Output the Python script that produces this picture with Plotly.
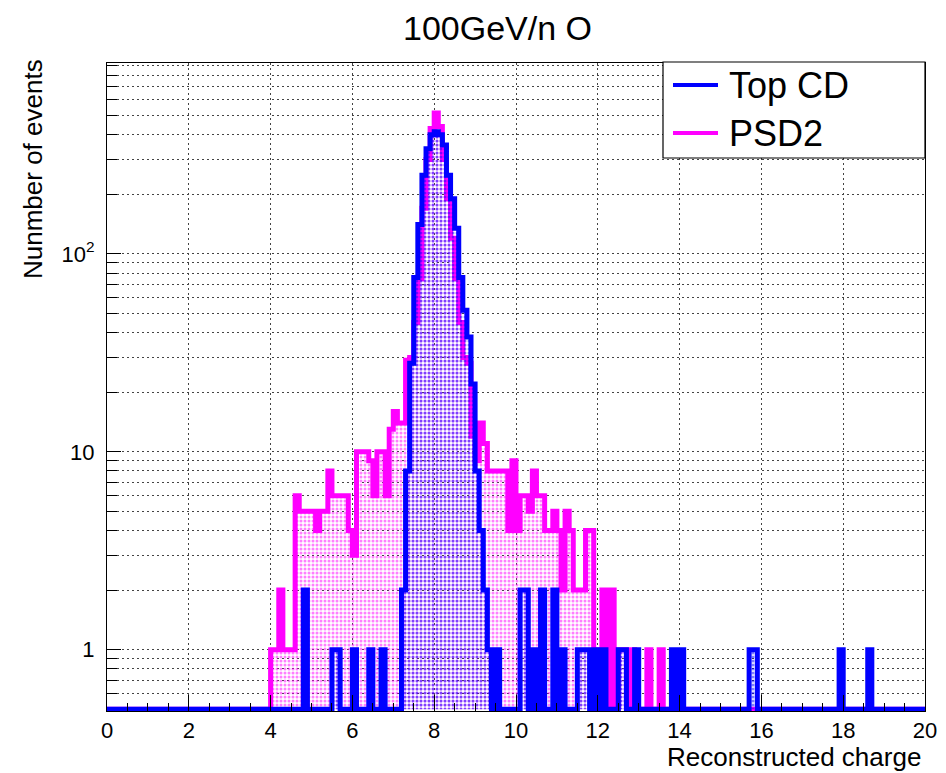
import numpy as np
import plotly.graph_objects as go

# ---------------- data (200 bins of width 0.1 from 0 to 20) ----------------
x_min = 0.0
bin_width = 0.1

top_cd_counts = [
    0, 0, 0, 0, 0, 0, 0, 0, 0, 0,        # 0.0 - 0.9
    0, 0, 0, 0, 0, 0, 0, 0, 0, 0,        # 1.0
    0, 0, 0, 0, 0, 0, 0, 0, 0, 0,        # 2.0
    0, 0, 0, 0, 0, 0, 0, 0, 0, 0,        # 3.0
    0, 0, 0, 0, 0, 0, 0, 0, 2, 0,        # 4.0
    0, 0, 0, 0, 0, 1, 1, 0, 0, 0,        # 5.0
    1, 0, 0, 0, 1, 0, 0, 1, 0, 0,        # 6.0
    0, 0, 2, 8, 28, 76, 141, 250, 340, 400,   # 7.0
    415, 400, 355, 250, 190, 135, 76, 52, 38, 22,  # 8.0
    8, 4, 2, 1, 0, 1, 0, 0, 0, 0,        # 9.0
    0, 2, 2, 0, 1, 0, 2, 0, 0, 2,        # 10.0
    0, 1, 0, 0, 0, 1, 1, 1, 0, 1,        # 11.0
    0, 1, 0, 0, 0, 1, 1, 0, 0, 1,        # 12.0
    0, 0, 0, 0, 0, 0, 0, 0, 1, 0,        # 13.0
    1, 0, 0, 0, 0, 0, 0, 0, 0, 0,        # 14.0
    0, 0, 0, 0, 0, 0, 0, 1, 1, 0,        # 15.0
    0, 0, 0, 0, 0, 0, 0, 0, 0, 0,        # 16.0
    0, 0, 0, 0, 0, 0, 0, 0, 0, 1,        # 17.0
    0, 0, 0, 0, 0, 0, 1, 0, 0, 0,        # 18.0
    0, 0, 0, 0, 0, 0, 0, 0, 0, 0,        # 19.0
]

psd2_counts = [
    0, 0, 0, 0, 0, 0, 0, 0, 0, 0,        # 0.0
    0, 0, 0, 0, 0, 0, 0, 0, 0, 0,        # 1.0
    0, 0, 0, 0, 0, 0, 0, 0, 0, 0,        # 2.0
    0, 0, 0, 0, 0, 0, 0, 0, 0, 0,        # 3.0
    1, 1, 2, 1, 1, 1, 6, 5, 5, 5,        # 4.0
    5, 4, 5, 5, 8, 6, 6, 6, 6, 4,        # 5.0
    3, 10, 10, 10, 9, 6, 10, 10, 6, 13,  # 6.0
    16, 14, 14, 29, 30, 45, 75, 170, 300, 430,   # 7.0
    515, 440, 300, 190, 120, 75, 45, 30, 28, 12,  # 8.0
    9, 14, 11, 8, 8, 8, 8, 8, 4, 9,      # 9.0
    4, 6, 6, 5, 8, 6, 6, 4, 4, 5,        # 10.0
    4, 2, 5, 4, 2, 2, 2, 4, 4, 1,        # 11.0
    1, 2, 0, 2, 0, 1, 1, 0, 1, 0,        # 12.0
    0, 0, 1, 0, 0, 1, 0, 0, 0, 0,        # 13.0
    0, 0, 0, 0, 0, 0, 0, 0, 0, 0,        # 14.0
    0, 0, 0, 0, 0, 0, 0, 0, 0, 0,        # 15.0
    0, 0, 0, 0, 0, 0, 0, 0, 0, 0,        # 16.0
    0, 0, 0, 0, 0, 0, 0, 0, 0, 0,        # 17.0
    0, 0, 0, 0, 0, 0, 0, 0, 0, 0,        # 18.0
    0, 0, 0, 0, 0, 0, 0, 0, 0, 0,        # 19.0
]

series_names = ["Top CD", "PSD2"]
x_tick_vals = [0, 2, 4, 6, 8, 10, 12, 14, 16, 18, 20]
y_tick_vals = [1, 10, 100]
y_tick_text = ["1", "10", "10<sup>2</sup>"]
y_minor_vals = [0.6, 0.7, 0.8, 0.9,
                2, 3, 4, 5, 6, 7, 8, 9,
                20, 30, 40, 50, 60, 70, 80, 90,
                200, 300, 400, 500, 600, 700, 800, 900]

y_floor = 0.5  # ROOT draws empty bins at the bottom of the log frame


def step_xy(counts):
    n = len(counts)
    edges = x_min + bin_width * np.arange(n + 1)
    ys = [max(c, y_floor) for c in counts]
    return list(edges), ys + [ys[-1]]


BLUE = "#0000ff"
MAGENTA = "#ff00ff"
LW = 5

fig = go.Figure()

for name, counts, color in [(series_names[1], psd2_counts, MAGENTA),
                            (series_names[0], top_cd_counts, BLUE)]:
    xs, ys = step_xy(counts)
    fig.add_trace(go.Scatter(
        x=xs, y=ys, name=name, mode="lines",
        line=dict(color=color, width=LW, shape="hv"),
        fill="toself", fillcolor="rgba(0,0,0,0)",
        fillpattern=dict(shape=".", fgcolor=color, bgcolor="rgba(0,0,0,0)",
                         size=4, solidity=0.45),
        showlegend=False,
    ))

# ---- geometry: the page body has an 8px margin, so the figure sits at (8, 8) ----
OFF = 8
W, H = 946 - OFF, 773 - OFF
FL, FR, FT, FB = 107, 925, 63, 711          # frame edges in page pixels
L, R, T, B = FL - OFF, W - (FR - OFF), FT - OFF, H - (FB - OFF)
pw, ph = W - L - R, H - T - B


def px2x(px):
    return (px - FL) / pw


def py2y(py):
    return (FB - py) / ph


grid_dash = "2px,3px"
grid_col = "#444444"

# ROOT-style legend box
shapes = [dict(type="rect", xref="paper", yref="paper",
               x0=px2x(663), x1=px2x(925), y0=py2y(158), y1=py2y(62),
               line=dict(color="black", width=1.2), fillcolor="white", layer="above")]
annotations = []
for name, color, py in [(series_names[0], BLUE, 85), (series_names[1], MAGENTA, 133)]:
    shapes.append(dict(type="line", xref="paper", yref="paper",
                       x0=px2x(673), x1=px2x(718), y0=py2y(py), y1=py2y(py),
                       line=dict(color=color, width=4), layer="above"))
    annotations.append(dict(text=name, xref="paper", yref="paper",
                            x=px2x(727), y=py2y(py), xanchor="left", yanchor="middle",
                            showarrow=False, font=dict(size=36, color="black")))

annotations += [
    dict(text="100GeV/n O", xref="paper", yref="paper",
         x=px2x(497), y=py2y(28), xanchor="center", yanchor="middle",
         showarrow=False, font=dict(size=34, color="black")),
    dict(text="Nunmber of events", xref="paper", yref="paper",
         x=px2x(33), y=py2y(57), xanchor="center", yanchor="top", textangle=-90,
         showarrow=False, font=dict(size=26, color="black")),
    dict(text="Reconstructed charge", xref="paper", yref="paper",
         x=px2x(923), y=py2y(757), xanchor="right", yanchor="middle",
         showarrow=False, font=dict(size=26, color="black")),
]

fig.update_layout(
    width=W, height=H,
    margin=dict(l=L, r=R, t=T, b=B, autoexpand=False),
    paper_bgcolor="white", plot_bgcolor="white",
    font=dict(family="Liberation Sans, Arial, sans-serif", color="black"),
    showlegend=False,
    shapes=shapes,
    annotations=annotations,
    xaxis=dict(range=[0, 20], tickvals=x_tick_vals, ticks="inside", ticklen=16,
               tickcolor="black", showline=True, linecolor="black", linewidth=1,
               mirror=True, showgrid=True, gridcolor=grid_col, griddash=grid_dash,
               gridwidth=1, zeroline=False, tickfont=dict(size=22),
               automargin=False, ticklabelstandoff=0,
               minor=dict(dtick=0.5, ticks="inside", ticklen=8, tickcolor="black",
                          showgrid=False)),
    yaxis=dict(type="log", range=[-0.31, 2.965], tickvals=y_tick_vals,
               ticktext=y_tick_text, ticks="inside", ticklen=14, tickcolor="black",
               showline=True, linecolor="black", linewidth=1, mirror=True,
               showgrid=True, gridcolor=grid_col, griddash=grid_dash, gridwidth=1,
               zeroline=False, tickfont=dict(size=22), automargin=False,
               ticklabelstandoff=7,
               minor=dict(tickmode="array", tickvals=y_minor_vals, ticks="inside",
                          ticklen=10, tickcolor="black", showgrid=True,
                          gridcolor=grid_col, griddash=grid_dash, gridwidth=1)),
)

fig.write_html("out.html")
